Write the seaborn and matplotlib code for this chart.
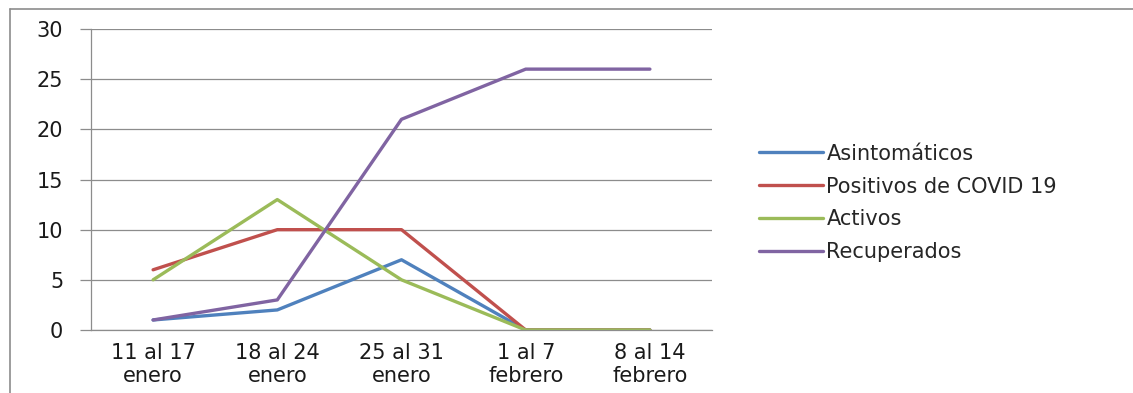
import matplotlib
matplotlib.use("Agg")
import matplotlib.pyplot as plt
import numpy as np
import pandas as pd
import seaborn as sns
from matplotlib.lines import Line2D

# data
semanas = ["11 al 17\nenero", "18 al 24\nenero", "25 al 31\nenero", "1 al 7\nfebrero", "8 al 14\nfebrero"]
asintomaticos = [1, 2, 7, 0, 0]
positivos = [6, 10, 10, 0, 0]
activos = [5, 13, 5, 0, 0]
recuperados = [1, 3, 21, 26, 26]

series = {
    "Asintomáticos": asintomaticos,
    "Positivos de COVID 19": positivos,
    "Activos": activos,
    "Recuperados": recuperados,
}
colors = ["#4F81BD", "#C0504D", "#9BBB59", "#8064A2"]

rows = []
for name, vals in series.items():
    for i, v in enumerate(vals):
        rows.append({"idx": i, "valor": v, "serie": name})
df = pd.DataFrame(rows)

sns.set_theme(style="white")
plt.rcParams["font.family"] = ["DejaVu Sans"]

FS = 15
fig = plt.figure(figsize=(11.33, 3.93), dpi=100)
ax = fig.add_axes([91 / 1133, 1 - 330 / 393, (712 - 91) / 1133, (330 - 29) / 393])

sns.lineplot(
    data=df, x="idx", y="valor", hue="serie", palette=colors,
    sort=False, linewidth=2.4, legend=False, ax=ax,
)

ax.set_xlim(-0.5, len(semanas) - 0.5)
ax.set_ylim(0, 30)
ax.set_yticks(np.arange(0, 31, 5))
ax.yaxis.grid(True, color="#8C8C8C", linewidth=0.9)
ax.set_axisbelow(True)

ax.set_xticks(np.arange(len(semanas)))
ax.set_xticklabels(semanas, fontsize=FS, color="#1a1a1a", linespacing=1.15)
ax.set_xticks(np.arange(-0.5, len(semanas)), minor=True)
ax.tick_params(axis="x", which="major", length=0, pad=9.5)
ax.tick_params(axis="x", which="minor", length=5, color="#8C8C8C", width=0.9, direction="out")
ax.tick_params(axis="y", labelsize=FS, labelcolor="#1a1a1a", length=8, color="#8C8C8C",
               width=0.9, direction="out", left=True, pad=12)
ax.set_xlabel("")
ax.set_ylabel("")

for s in ["top", "right"]:
    ax.spines[s].set_visible(False)
for s in ["left", "bottom"]:
    ax.spines[s].set_color("#8C8C8C")
    ax.spines[s].set_linewidth(0.9)

handles = [Line2D([0], [0], color=c, lw=2.4) for c in colors]
fig.legend(
    handles, list(series.keys()), loc="center left",
    bbox_to_anchor=(740 / 1133, 1 - 203 / 393), frameon=False,
    fontsize=FS, handlelength=3.1, handletextpad=0.15, labelspacing=0.62,
)

# chart area border (left and top edges visible in the crop)
fig.add_artist(Line2D([10 / 1133, 10 / 1133], [0, 1 - 9 / 393], color="#8C8C8C", lw=1.2,
                      transform=fig.transFigure))
fig.add_artist(Line2D([10 / 1133, 1], [1 - 9 / 393, 1 - 9 / 393], color="#8C8C8C", lw=1.2,
                      transform=fig.transFigure))

fig.savefig("out.png", dpi=100)
